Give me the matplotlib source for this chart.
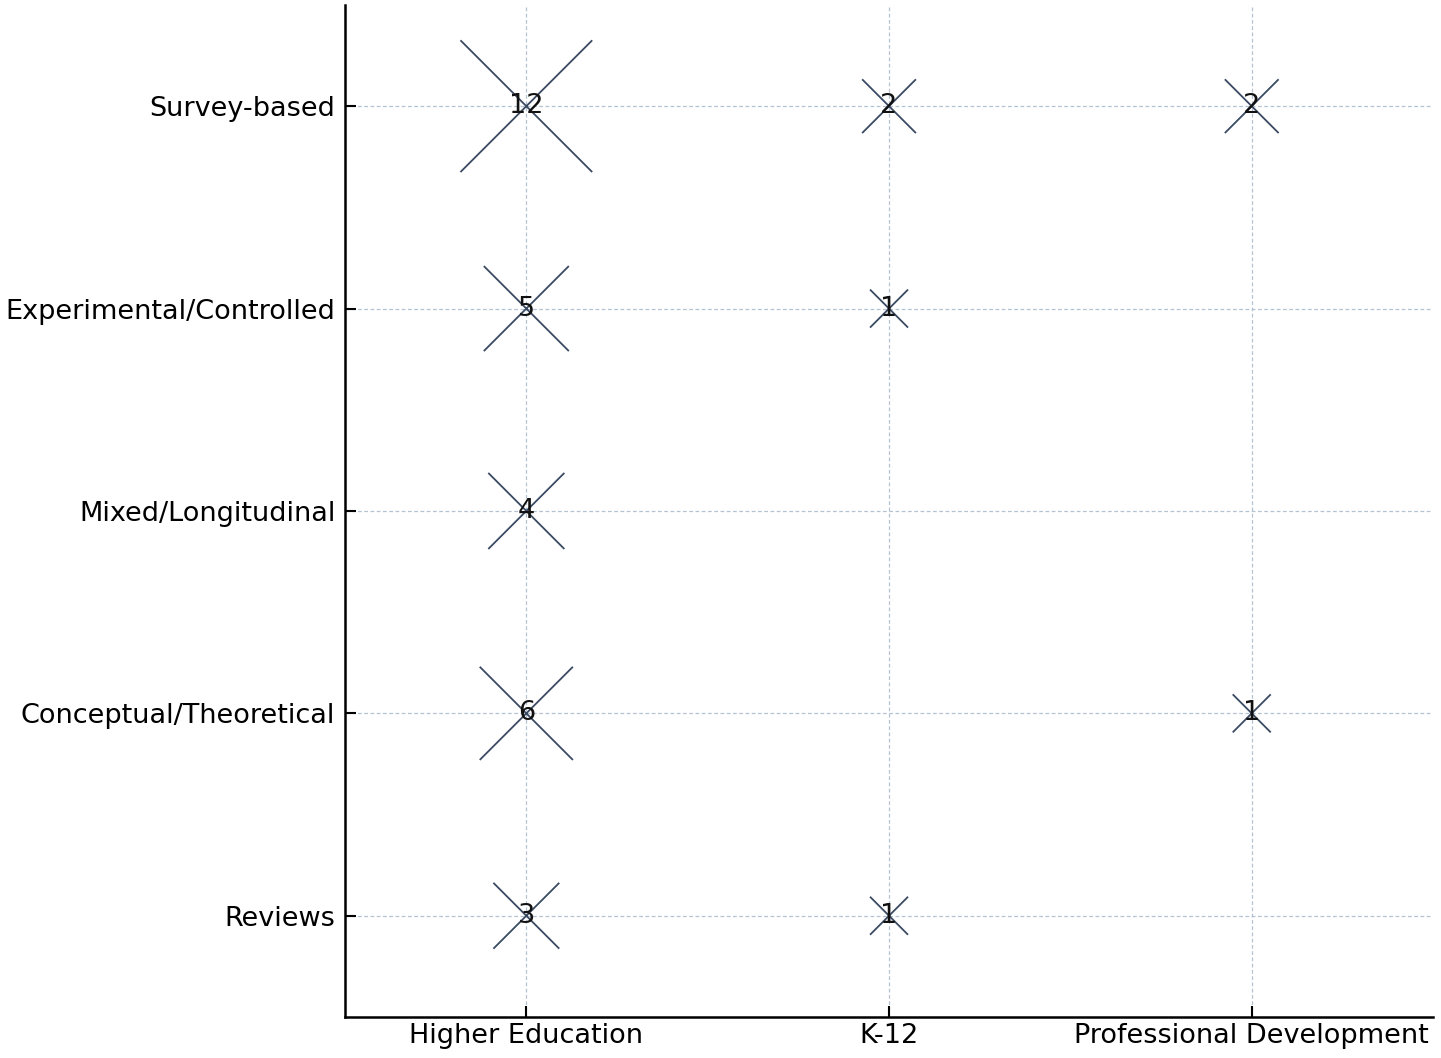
import matplotlib
matplotlib.use("Agg")
import matplotlib.pyplot as plt

contexts = ["Higher Education", "K-12", "Professional Development"]
methods = ["Survey-based", "Experimental/Controlled", "Mixed/Longitudinal",
           "Conceptual/Theoretical", "Reviews"]
# counts[method][context]
counts = [
    [12, 2, 2],
    [5, 1, 0],
    [4, 0, 0],
    [6, 0, 1],
    [3, 1, 0],
]

fig = plt.figure(figsize=(14.41, 10.58), dpi=100)
ax = fig.add_axes([0.2394, 0.0388, 0.7551, 0.9565])

xs, ys, ss, labs = [], [], [], []
for i, m in enumerate(methods):
    for j, c in enumerate(contexts):
        v = counts[i][j]
        if v > 0:
            xs.append(j)
            ys.append(len(methods) - 1 - i)
            ss.append(v)
            labs.append(v)

ax.scatter(xs, ys, s=[v * 750 for v in ss], marker='x', color='#3b4a63',
           linewidths=1.3, zorder=3)
for x, y, v in zip(xs, ys, labs):
    ax.text(x, y, str(v), ha='center', va='center', fontsize=19.5,
            color='#111111', zorder=4)

ax.set_xlim(-0.5, 2.5)
ax.set_ylim(-0.5, 4.5)
ax.set_xticks(range(len(contexts)))
ax.set_xticklabels(contexts, fontsize=19.5)
ax.set_yticks(range(len(methods)))
ax.set_yticklabels(methods[::-1], fontsize=19.5)
ax.tick_params(direction='in', length=8, width=1.5)
ax.tick_params(axis='x', pad=4)
ax.tick_params(axis='y', pad=7)
ax.grid(True, linestyle=(0, (3, 2)), color='#b3c3d3', linewidth=0.9)
ax.set_axisbelow(True)
for s in ['top', 'right']:
    ax.spines[s].set_visible(False)
for s in ['left', 'bottom']:
    ax.spines[s].set_linewidth(1.8)

fig.savefig("out.png", dpi=100)
